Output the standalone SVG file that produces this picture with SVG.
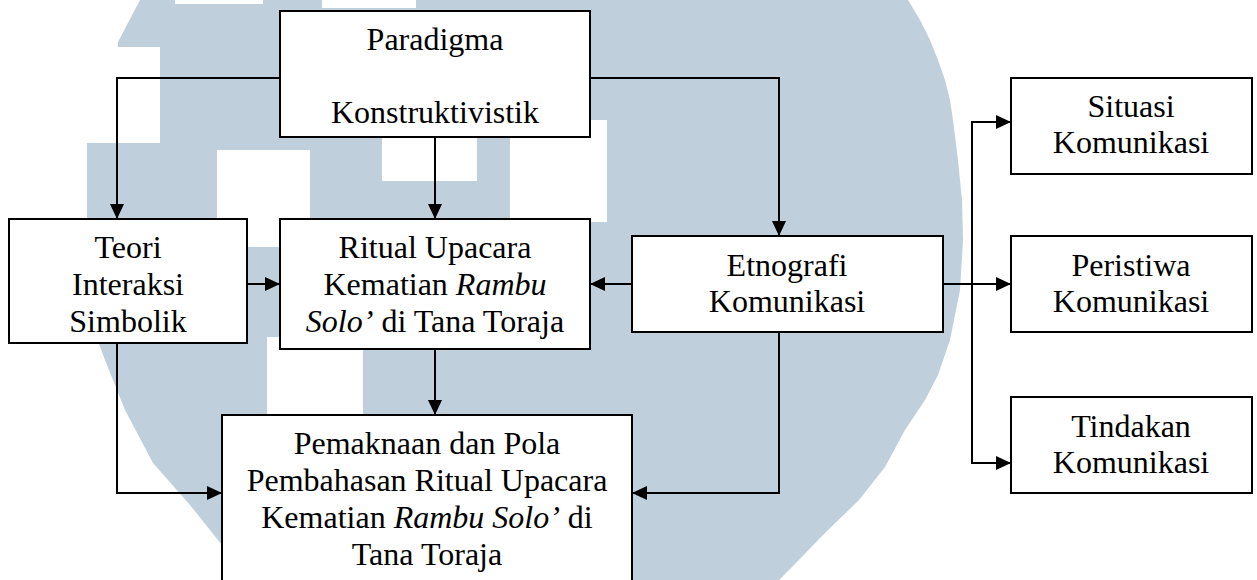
<svg xmlns="http://www.w3.org/2000/svg" width="1257" height="580" viewBox="0 0 1257 580">
<style>
.box{fill:#fff;stroke:#000;stroke-width:2}
.t{font-family:"Liberation Serif","Times New Roman",serif;font-size:32px;fill:#000;text-anchor:middle}
.i{font-style:italic}
.c{fill:none;stroke:#000;stroke-width:2}
.wm{fill:#c0cfdc}
.wh{fill:#fff}
</style>
<defs>
<marker id="ah" markerUnits="userSpaceOnUse" markerWidth="16" markerHeight="14" refX="15" refY="7" orient="auto">
<path d="M0,0 L15,7 L0,14 z" fill="#000"/>
</marker>
</defs>
<rect width="1257" height="580" fill="#fff"/>
<g id="watermark">
<path class="wm" d="M140,0 L908,0 L920,20 L930,40 L938,60 L945,80 L950,100 L953,120 L958,160 L962,200 L963,240 L960,290 L950,340 L938,375 L925,400 L905,430 L885,467 L859,500 L825,533 L792,567 L779,580 L245,580 L222,545 L190,505 L153,463 L125,410 L105,360 L90,320 L87,300 L87,143 L160,143 L160,47 L118,47 L118,42 Z"/>
<rect class="wh" x="175" y="0" width="88" height="4"/>
<rect class="wh" x="322" y="0" width="94" height="8"/>
<rect class="wh" x="217" y="150" width="93" height="97"/>
<rect class="wh" x="382" y="120" width="95" height="61"/>
<rect class="wh" x="510" y="120" width="97" height="102"/>
<rect class="wh" x="267" y="337" width="96" height="78"/>
</g>
<g id="connectors">
<path class="c" d="M280,78 H117 V219" marker-end="url(#ah)"/>
<path class="c" d="M435,137 V219" marker-end="url(#ah)"/>
<path class="c" d="M590,78 H779 V236" marker-end="url(#ah)"/>
<path class="c" d="M247,284 H280" marker-end="url(#ah)"/>
<path class="c" d="M632,284 H590" marker-end="url(#ah)"/>
<path class="c" d="M435,349 V415" marker-end="url(#ah)"/>
<path class="c" d="M117,343 V493 H222" marker-end="url(#ah)"/>
<path class="c" d="M779,332 V493 H632" marker-end="url(#ah)"/>
<path class="c" d="M943,284 H1011" marker-end="url(#ah)"/>
<path class="c" d="M1011,122 H972 V463 H1011" marker-end="url(#ah)"/>
<path class="c" d="M972,122 H1011" marker-end="url(#ah)"/>
</g>
<g id="paradigma">
<rect class="box" x="280" y="11" width="310" height="126"/>
<text class="t" x="435" y="50">Paradigma</text>
<text class="t" x="435" y="123">Konstruktivistik</text>
</g>
<g id="teori">
<rect class="box" x="9" y="219" width="238" height="124"/>
<text class="t" x="128" y="258">Teori</text>
<text class="t" x="128" y="295">Interaksi</text>
<text class="t" x="128" y="332">Simbolik</text>
</g>
<g id="ritual">
<rect class="box" x="280" y="219" width="310" height="130"/>
<text class="t" x="435" y="258">Ritual Upacara</text>
<text class="t" x="435" y="295">Kematian <tspan class="i">Rambu</tspan></text>
<text class="t" x="435" y="332"><tspan class="i">Solo’</tspan> di Tana Toraja</text>
</g>
<g id="etnografi">
<rect class="box" x="632" y="236" width="311" height="96"/>
<text class="t" x="787" y="276">Etnografi</text>
<text class="t" x="787" y="312">Komunikasi</text>
</g>
<g id="pemaknaan">
<rect class="box" x="222" y="415" width="410" height="180"/>
<text class="t" x="427" y="454">Pemaknaan dan Pola</text>
<text class="t" x="427" y="491">Pembahasan Ritual Upacara</text>
<text class="t" x="427" y="528">Kematian <tspan class="i">Rambu Solo’</tspan> di</text>
<text class="t" x="427" y="565">Tana Toraja</text>
</g>
<g id="situasi">
<rect class="box" x="1011" y="78" width="241" height="96"/>
<text class="t" x="1131" y="117">Situasi</text>
<text class="t" x="1131" y="153">Komunikasi</text>
</g>
<g id="peristiwa">
<rect class="box" x="1011" y="236" width="241" height="96"/>
<text class="t" x="1131" y="276">Peristiwa</text>
<text class="t" x="1131" y="312">Komunikasi</text>
</g>
<g id="tindakan">
<rect class="box" x="1011" y="397" width="241" height="96"/>
<text class="t" x="1131" y="437">Tindakan</text>
<text class="t" x="1131" y="473">Komunikasi</text>
</g>
</svg>
